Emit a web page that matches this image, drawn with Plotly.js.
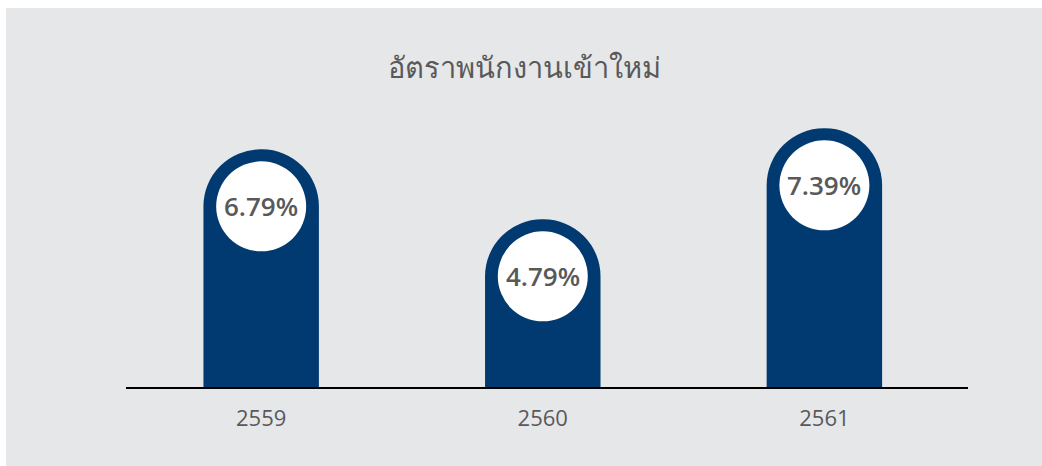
<!DOCTYPE html>
<html>
<head>
<meta charset="utf-8">
<script src="https://cdn.plot.ly/plotly-3.0.1.min.js"></script>
<style>
html,body{margin:0;padding:0;background:#ffffff;width:1042px;height:466px;overflow:hidden;}
#chart{position:absolute;left:6px;top:8px;width:1036px;height:458px;}
</style>
</head>
<body>
<div id="chart"></div>
<script>
const titleText = "อัตราพนักงานเข้าใหม่";
const years = ["2559", "2560", "2561"];
const rates = [6.79, 4.79, 7.39];
const rateLabels = ["6.79%", "4.79%", "7.39%"];

const barColor = "#003a70";
const textColor = "#595959";
const capOffset = -57;  // px below bar top (centre of the round cap)
const circleR = 45;     // px

const trace = {
  type: "bar",
  x: years,
  y: rates,
  width: 0.41,
  marker: {color: barColor, cornerradius: "50%", line: {width: 0}},
  hoverinfo: "skip"
};

const shapes = years.map((yr, i) => ({
  type: "circle",
  xref: "x", yref: "y",
  xsizemode: "pixel", ysizemode: "pixel",
  xanchor: i, yanchor: rates[i],
  x0: -circleR, x1: circleR,
  y0: capOffset - circleR, y1: capOffset + circleR,
  fillcolor: "#ffffff",
  line: {width: 0},
  layer: "above"
}));

const annotations = years.map((yr, i) => ({
  x: i, y: rates[i], xref: "x", yref: "y",
  yshift: capOffset,
  text: rateLabels[i],
  showarrow: false,
  xanchor: "center", yanchor: "middle",
  font: {family: "Open Sans, Noto Sans, sans-serif", size: 26, color: textColor, weight: 600}
}));

const layout = {
  width: 1036, height: 458,
  paper_bgcolor: "#e6e7e9",
  plot_bgcolor: "rgba(0,0,0,0)",
  margin: {l: 120, r: 74, t: 99, b: 79},
  title: {
    text: titleText,
    x: 0.5, xanchor: "center",
    y: 1 - 60/458, yanchor: "middle", yref: "container",
    font: {family: "Noto Sans, Open Sans, sans-serif", size: 29, color: textColor, weight: 300}
  },
  xaxis: {
    type: "category",
    range: [-0.48, 2.51],
    showline: true, linecolor: "#000000", linewidth: 2,
    showgrid: false, zeroline: false, ticks: "",
    ticklabelstandoff: 11,
    tickfont: {family: "Open Sans, Noto Sans, sans-serif", size: 22, color: textColor},
    fixedrange: true
  },
  yaxis: {
    range: [0, 8],
    visible: false,
    showgrid: false, zeroline: false,
    fixedrange: true
  },
  shapes: shapes,
  annotations: annotations,
  showlegend: false,
  bargap: 0.5
};

Plotly.newPlot("chart", [trace], layout, {displayModeBar: false, staticPlot: true});
</script>
</body>
</html>
